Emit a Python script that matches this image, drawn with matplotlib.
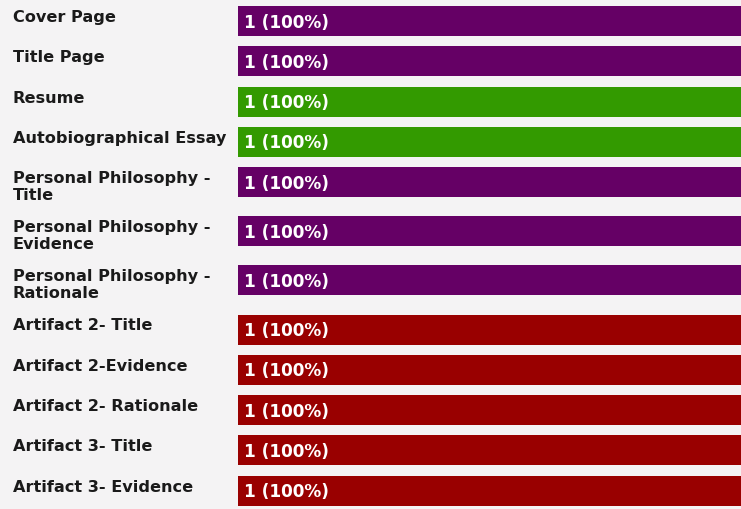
import matplotlib
matplotlib.use('Agg')
import matplotlib.pyplot as plt

labels = ['Cover Page', 'Title Page', 'Resume', 'Autobiographical Essay',
          'Personal Philosophy -\nTitle', 'Personal Philosophy -\nEvidence',
          'Personal Philosophy -\nRationale', 'Artifact 2- Title',
          'Artifact 2-Evidence', 'Artifact 2- Rationale', 'Artifact 3- Title',
          'Artifact 3- Evidence']
counts = [1, 1, 1, 1, 1, 1, 1, 1, 1, 1, 1, 1]
totals = [1, 1, 1, 1, 1, 1, 1, 1, 1, 1, 1, 1]
groups = ['purple', 'purple', 'green', 'green', 'purple', 'purple', 'purple',
          'red', 'red', 'red', 'red', 'red']

colors = {'purple': '#650065', 'green': '#339a00', 'red': '#990000'}
bg = '#f4f3f4'

W, H = 741, 510
bar_x0 = 238
bar_span = W - bar_x0
bar_h = 30

fig = plt.figure(figsize=(W / 100, H / 100), dpi=100)
fig.patch.set_facecolor(bg)
ax = fig.add_axes([0, 0, 1, 1])
ax.set_facecolor(bg)
ax.set_xlim(0, W)
ax.set_ylim(H, 0)
ax.axis('off')

# row layout: one-line rows ~40px, two-line rows taller
y = 7.0
for lab, c, t, g in zip(labels, counts, totals, groups):
   nlines = lab.count('\n') + 1
   frac = c / t
   ax.barh(y, frac * bar_span, height=bar_h, left=bar_x0, align='edge',
           color=colors[g], edgecolor='none')
   ax.text(13, y + 3, lab, ha='left', va='top', fontsize=11.6,
           fontweight='bold', color='#1a1a1a', linespacing=1.15,
           family='DejaVu Sans')
   ax.text(bar_x0 + 6, y + bar_h / 2 + 0.5, '{0} ({1:.0f}%)'.format(c, frac * 100),
           ha='left', va='center', fontsize=12.2, fontweight='bold',
           color='white', family='DejaVu Sans')
   y += 40.3 + 8.8 * (nlines - 1)

fig.savefig('out.png', dpi=100, facecolor=bg)
